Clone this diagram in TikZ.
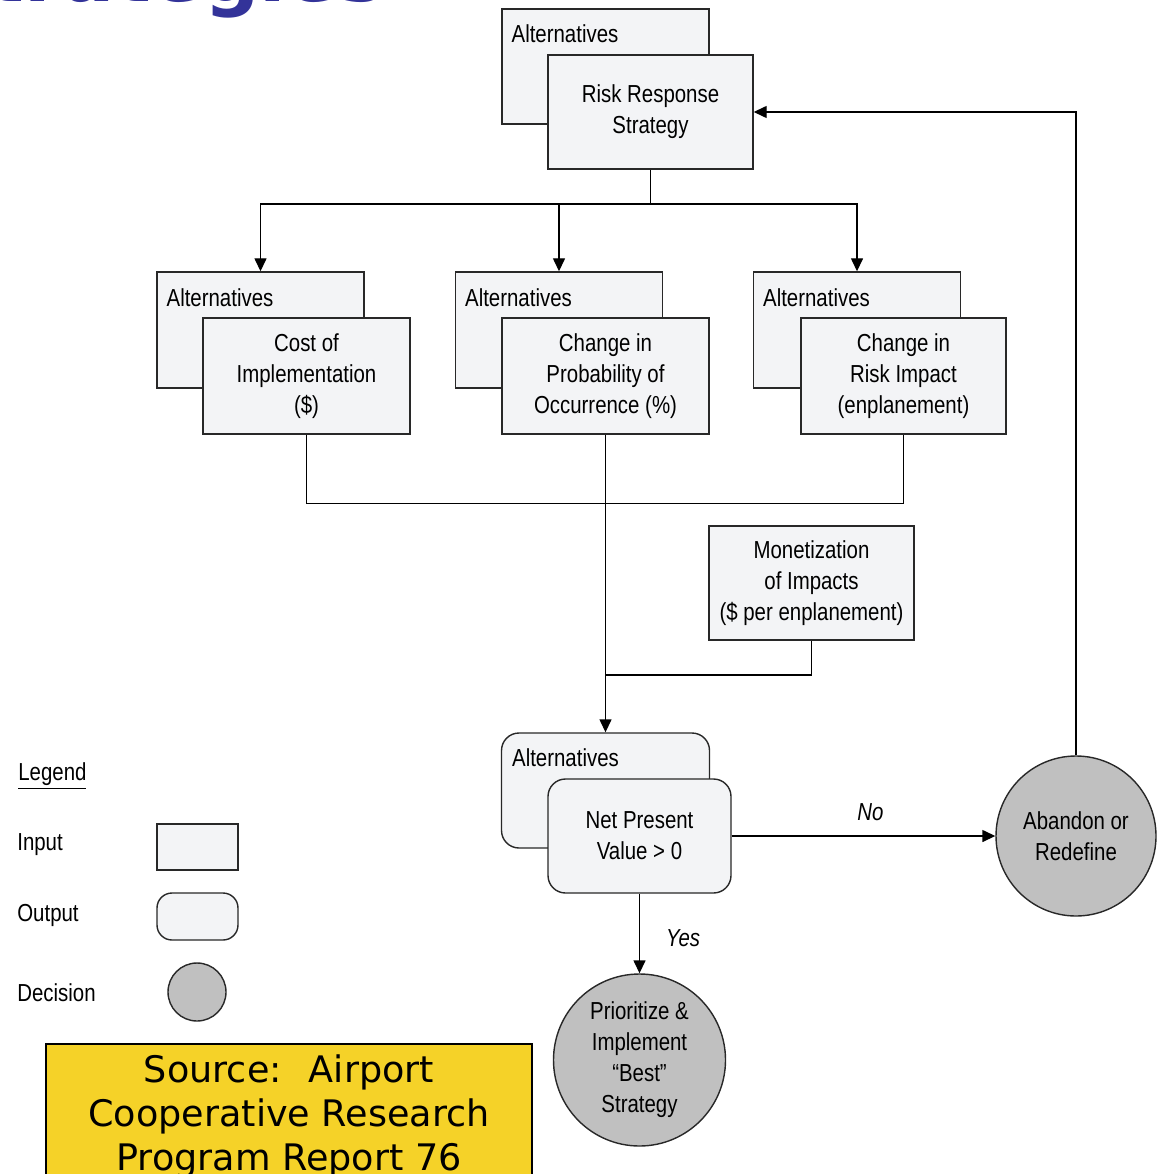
\documentclass[tikz,border=0pt]{standalone}
\usepackage{fontspec}
\setmainfont{Liberation Sans}[FakeStretch=0.83]
\newfontfamily\slidefont{DejaVu Sans}
\usepackage{xcolor}
\usepackage{tikz}
\usetikzlibrary{arrows.meta,positioning,shapes.geometric}
\definecolor{boxfill}{RGB}{243,244,246}
\definecolor{edgegray}{RGB}{40,40,40}
\definecolor{decgray}{RGB}{192,192,192}
\definecolor{titleblue}{RGB}{51,51,153}
\definecolor{srcyellow}{RGB}{245,210,40}
\tikzstyle{inbox} = [rectangle, draw=edgegray, line width=0.8pt, fill=boxfill, align=center]
\tikzstyle{outbox} = [inbox, rounded corners=0.35cm]
\tikzstyle{decision} = [circle, draw=edgegray, line width=0.8pt, fill=decgray, align=center, inner sep=0pt]
\tikzstyle{altlabel} = [anchor=north west, inner sep=0pt]
\tikzstyle{link} = [line width=0.8pt]
\tikzstyle{arrow} = [-{Triangle[length=0.26cm, width=0.24cm]}, line width=0.8pt]
\begin{document}
\begin{tikzpicture}[font=\fontsize{14}{17.6}\selectfont]
\useasboundingbox (0,0) rectangle (23.16,-23.48);
\clip (0,0) rectangle (23.16,-23.48);
\node[anchor=base east, font=\slidefont\bfseries\fontsize{44}{48}\selectfont, text=titleblue, inner sep=0pt] (title) at (7.70,-0.04) {Strategies};

% strategy
\node[inbox, minimum width=4.14cm, minimum height=2.30cm] (altrisk) at (12.11,-1.33) {};
\node[altlabel] (altrisklbl) at ([xshift=0.2cm, yshift=-0.32cm]altrisk.north west) {Alternatives};
\node[inbox, minimum width=4.10cm, minimum height=2.28cm] (risk) at (13.01,-2.24) {Risk Response\\Strategy};

% impacts
\node[inbox, minimum width=4.14cm, minimum height=2.32cm] (altcost) at (5.21,-6.60) {};
\node[altlabel] (altcostlbl) at ([xshift=0.2cm, yshift=-0.34cm]altcost.north west) {Alternatives};
\node[inbox, minimum width=4.14cm, minimum height=2.32cm] (cost) at (6.13,-7.52) {Cost of\\Implementation\\(\$)};

\node[inbox, minimum width=4.14cm, minimum height=2.32cm] (altprob) at (11.18,-6.60) {};
\node[altlabel] (altproblbl) at ([xshift=0.2cm, yshift=-0.34cm]altprob.north west) {Alternatives};
\node[inbox, minimum width=4.14cm, minimum height=2.32cm] (prob) at (12.11,-7.52) {Change in\\Probability of\\Occurrence (\%)};

\node[inbox, minimum width=4.14cm, minimum height=2.32cm] (altimp) at (17.14,-6.60) {};
\node[altlabel] (altimplbl) at ([xshift=0.2cm, yshift=-0.34cm]altimp.north west) {Alternatives};
\node[inbox, minimum width=4.10cm, minimum height=2.32cm] (imp) at (18.07,-7.52) {Change in\\Risk Impact\\(enplanement)};

\node[inbox, minimum width=4.10cm, minimum height=2.28cm] (money) at (16.23,-11.66) {Monetization\\of Impacts\\(\$ per enplanement)};

% evaluation
\node[outbox, minimum width=4.16cm, minimum height=2.30cm] (altnpv) at (12.11,-15.81) {};
\node[altlabel] (altnpvlbl) at ([xshift=0.22cm, yshift=-0.32cm]altnpv.north west) {Alternatives};
\node[outbox, minimum width=3.66cm, minimum height=2.28cm] (npv) at (12.79,-16.72) {Net Present\\Value > 0};
\node[decision, minimum size=3.2cm] (abandon) at (21.52,-16.72) {Abandon or\\Redefine};
\node[decision, minimum size=3.44cm] (prior) at (12.79,-21.20) {Prioritize \&\\Implement\\“Best”\\Strategy};

\coordinate (split) at (13.01,-4.08);
\coordinate (merge) at (12.11,-13.50);
\draw[link] (risk.south) -- (split);
\draw[arrow] (split) -| (altcost.north);
\draw[arrow] (split) -| (altprob.north);
\draw[arrow] (split) -| (altimp.north);
\draw[link] (cost.south) -- ++(0,-1.38) -| (imp.south);
\draw[arrow] (prob.south) -- (altnpv.north);
\draw[link] (money.south) |- (merge);
\draw[arrow] (npv.east) -- (abandon.west) node[midway, above=0.17cm, xshift=0.14cm, font=\fontsize{14}{17.6}\selectfont\itshape] (nolbl) {No};
\draw[arrow] (npv.south) -- (prior.north) node[midway, right=0.4cm, yshift=-0.1cm, font=\fontsize{14}{17.6}\selectfont\itshape] (yeslbl) {Yes};
\draw[arrow] (abandon.north) |- (risk.east);

% legend
\node[anchor=west, inner sep=0pt] (legend) at (0.36,-15.52) {\underline{Legend}};
\node[anchor=west, inner sep=0pt] (inputlbl) at (0.34,-16.90) {Input};
\node[inbox, minimum width=1.62cm, minimum height=0.92cm] (inputkey) at (3.95,-16.94) {};
\node[anchor=west, inner sep=0pt] (outputlbl) at (0.34,-18.30) {Output};
\node[outbox, rounded corners=0.3cm, minimum width=1.62cm, minimum height=0.94cm] (outputkey) at (3.95,-18.33) {};
\node[anchor=west, inner sep=0pt] (decisionlbl) at (0.34,-19.86) {Decision};
\node[decision, minimum size=1.16cm] (decisionkey) at (3.94,-19.84) {};

% source
\node[rectangle, draw=black, line width=0.9pt, fill=srcyellow, minimum width=9.72cm, minimum height=3.4cm, anchor=north] (srcbox) at (5.78,-20.86) {};
\node[anchor=north, inner sep=0pt, align=center, font=\slidefont\fontsize{20.8}{25}\selectfont] (srctext) at (5.78,-21.08) {Source:~ Airport\\Cooperative Research\\Program Report 76};
\end{tikzpicture}
\end{document}
